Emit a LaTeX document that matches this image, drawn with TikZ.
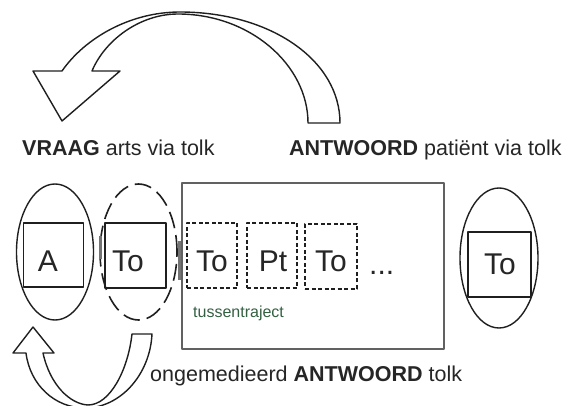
\documentclass[tikz,border=0pt]{standalone}
\usepackage{fontspec}
\setmainfont{Liberation Sans}
\usetikzlibrary{shapes.geometric}
\begin{document}
\begin{tikzpicture}[x=1pt,y=-1pt,line join=round,
  ink/.style={draw=black!88,line width=1.4pt},
  bigarrow/.style={ink,fill=white},
  oval/.style={ink,ellipse,inner sep=0pt,minimum width=77,minimum height=136},
  dashoval/.style={oval,dash pattern=on 17pt off 7pt,line width=1.6pt},
  box/.style={ink,rectangle,inner sep=0pt},
  dbox/.style={box,dash pattern=on 4pt off 2.5pt,line width=1.5pt,minimum width=50,minimum height=65},
  boxtxt/.style={anchor=base,font=\fontsize{30}{30}\selectfont,inner sep=0pt,text=black!85},
  lbl/.style={anchor=base west,font=\fontsize{21.5}{21.5}\selectfont,inner sep=0pt,text=black!85},
  artifact/.style={draw=black!55,line width=2.6pt}]
\useasboundingbox (0,0) rectangle (568,406);
\fill[white] (0,0) rectangle (568,406);

% top curved arrow
\draw[bigarrow] (33,71) -- (62,71)
  .. controls (85,38) and (130,12) .. (180,12)
  .. controls (270,12) and (340,60) .. (340,123)
  -- (308,123)
  .. controls (308,65) and (250,14) .. (178,14)
  .. controls (140,14) and (105,40) .. (92,71)
  -- (120,71) -- (62,121) -- cycle;

% bottom curved arrow
\draw[bigarrow] (13,353) -- (33,327) -- (54,353) -- (43,353)
  .. controls (50,385) and (70,404) .. (88,405)
  .. controls (110,405) and (128,370) .. (132,334)
  -- (152,334)
  .. controls (150,375) and (120,408) .. (85,408)
  .. controls (55,408) and (30,385) .. (26,353) -- cycle;

% labels
\node[lbl] (q) at (22,156) {\textbf{VRAAG} arts via tolk};
\node[lbl] (ans) at (289,156) {\textbf{ANTWOORD} patiënt via tolk};
\node[lbl] (ong) at (150,381) {ongemedieerd \textbf{ANTWOORD} tolk};

% big rectangle
\node[draw=black!62,line width=2.6pt,rectangle,inner sep=0pt,minimum width=262,minimum height=166] (traj) at (313,266) {};
\node[anchor=base west,inner sep=0pt,font=\fontsize{16}{16}\selectfont,text={rgb,255:red,52;green,96;blue,66}] (tus) at (193,318) {tussentraject};

% left: A
\node[oval] (eA) at (55,252) {};
\node[box,minimum width=60,minimum height=64] (bA) at (53.5,255) {};
\node[boxtxt] (tA) at (48,272) {A};

% dashed To
\node[dashoval] (eT) at (138.5,252) {};
\node[box,minimum width=61,minimum height=65] (bT) at (135.5,255.5) {};
\node[boxtxt] (tT) at (128,272) {To};

% artifacts of overlapping lines
\draw[artifact] (100.5,236) -- (100.5,259);
\draw[artifact] (179.5,241) -- (179.5,280);

% dashed boxes in tussentraject
\node[dbox] (d1) at (212,255.5) {};
\node[boxtxt] (t1) at (212,272) {To};
\node[dbox] (d2) at (272,255.5) {};
\node[boxtxt] (t2) at (273,272) {Pt};
\node[dbox,minimum width=52] (d3) at (331,256.5) {};
\node[boxtxt] (t3) at (331,272) {To};
\node[boxtxt,anchor=base west] (dots) at (369,275) {...};

% right To
\node[oval,minimum width=78,minimum height=140] (eR) at (499,258) {};
\node[box,minimum width=63,minimum height=65] (bR) at (499.5,264.5) {};
\node[boxtxt] (tR) at (500,275) {To};
\end{tikzpicture}
\end{document}
